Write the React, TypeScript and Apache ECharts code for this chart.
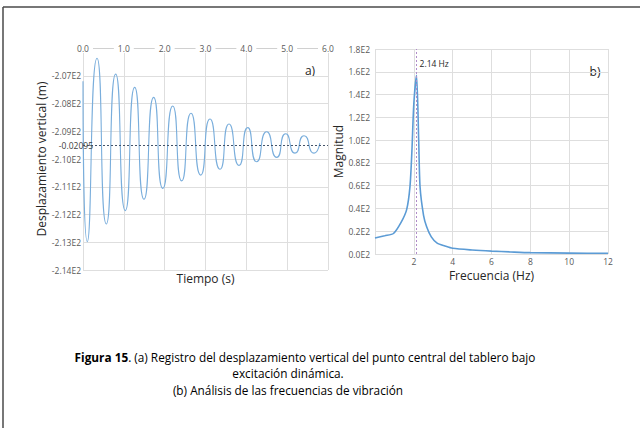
import React, { useEffect, useRef } from "react";
import * as echarts from "echarts";

// Vertical displacement record: time (s) and displacement (scaled, E2 units)
const timeS = [
  0.0, 0.105, 0.343, 0.571, 0.8, 1.036, 1.266, 1.494, 1.731, 1.955, 2.197, 2.417,
  2.645, 2.883, 3.11, 3.355, 3.576, 3.82, 4.034, 4.254, 4.499, 4.744, 4.964,
  5.192, 5.413, 5.658, 5.8,
];
const displacement = [
  -207.2, -212.98, -206.37, -212.34, -206.94, -211.86, -207.42, -211.45, -207.78,
  -211.06, -208.09, -210.79, -208.35, -210.58, -208.56, -210.37, -208.74, -210.23,
  -208.87, -210.1, -209.02, -209.94, -209.09, -209.79, -209.16, -209.79, -209.43,
];
const meanLevel = -209.5;
const meanLabel = "-0.02095";

// Frequency spectrum
const freqHz = [
  0, 0.5, 0.95, 1.35, 1.63, 1.8, 1.9, 2.0, 2.14, 2.25, 2.32, 2.5, 2.66, 2.9, 3.2,
  3.6, 4.0, 5.0, 6.0, 7.0, 8.0, 10, 12,
];
const magnitude = [
  14, 16, 18, 28, 39, 59, 90, 132, 157, 100, 59, 34, 24, 15, 9.5, 7, 5, 3.5, 2.5,
  1.8, 1.2, 0.8, 0.6,
];
const peakFreq = 2.14;
const peakLabel = "2.14 Hz";

const captionBold = "Figura 15";
const captionLine1 =
  ". (a) Registro del desplazamiento vertical del punto central del tablero bajo";
const captionLine2 = "excitación dinámica.";
const captionLine3 = "(b) Análisis de las frecuencias de vibración";

const FONT = "'Open Sans', 'Noto Sans', sans-serif";
const GRID = "#dedede";
const LABEL = "#595959";

export default function App() {
  const ref = useRef<HTMLDivElement>(null);

  useEffect(() => {
    if (!ref.current) return;
    const chart = echarts.init(ref.current, null, { renderer: "svg" });

    const tickFont = { fontFamily: FONT, fontSize: 8.5, color: LABEL };
    const nameFont = { fontFamily: FONT, fontSize: 12, color: "#262626" };

    chart.setOption({
      animation: false,
      backgroundColor: "#ffffff",
      grid: [
        { left: 83, top: 48, width: 245, height: 222 },
        { left: 375, top: 49, width: 233, height: 205 },
      ],
      xAxis: [
        {
          gridIndex: 0,
          type: "value",
          position: "top",
          min: 0,
          max: 6,
          interval: 1,
          axisLine: { show: true, lineStyle: { color: "#d0d0d0", width: 1 } },
          axisTick: { show: false },
          axisLabel: {
            ...tickFont,
            margin: -5,
            backgroundColor: "#ffffff",
            padding: [0, 4],
            formatter: (v: number) => v.toFixed(1),
          },
          splitLine: { show: true, lineStyle: { color: GRID } },
        },
        {
          gridIndex: 0,
          type: "value",
          position: "bottom",
          min: 0,
          max: 6,
          axisLine: { show: false },
          axisTick: { show: false },
          axisLabel: { show: false },
          splitLine: { show: false },
          name: "Tiempo (s)",
          nameLocation: "middle",
          nameGap: 2,
          nameTextStyle: { ...nameFont, verticalAlign: "top" },
        },
        {
          gridIndex: 1,
          type: "value",
          min: 0,
          max: 12,
          interval: 2,
          axisLine: { show: false },
          axisTick: { show: false },
          axisLabel: {
            ...tickFont,
            margin: 3,
            formatter: (v: number) => (v === 0 ? "" : String(v)),
          },
          splitLine: { show: true, lineStyle: { color: GRID } },
          name: "Frecuencia (Hz)",
          nameLocation: "middle",
          nameGap: 15,
          nameTextStyle: { ...nameFont, verticalAlign: "top" },
        },
      ],
      yAxis: [
        {
          gridIndex: 0,
          type: "value",
          min: -214,
          max: -206,
          interval: 1,
          axisLine: { show: false },
          axisTick: { show: false },
          axisLabel: {
            ...tickFont,
            margin: 2,
            formatter: (v: number) =>
              v === -206 ? "" : (v / 100).toFixed(2) + "E2",
          },
          splitLine: { show: true, lineStyle: { color: GRID } },
          name: "Desplazamiento vertical (m)",
          nameLocation: "middle",
          nameGap: 36,
          nameTextStyle: nameFont,
        },
        {
          gridIndex: 1,
          type: "value",
          min: 0,
          max: 180,
          interval: 20,
          axisLine: { show: false },
          axisTick: { show: false },
          axisLabel: {
            ...tickFont,
            margin: 5,
            formatter: (v: number) => (v / 100).toFixed(1) + "E2",
          },
          splitLine: { show: true, lineStyle: { color: GRID } },
          name: "Magnitud",
          nameLocation: "middle",
          nameGap: 29,
          nameTextStyle: nameFont,
        },
      ],
      series: [
        {
          type: "line",
          xAxisIndex: 0,
          yAxisIndex: 0,
          data: timeS.map((t, i) => [t, displacement[i]]),
          smooth: 0.72,
          showSymbol: false,
          lineStyle: { color: "#7aaedc", width: 1.1 },
          markLine: {
            silent: true,
            symbol: "none",
            lineStyle: { color: "#44546a", type: [2, 2], width: 1 },
            label: {
              show: true,
              position: "start",
              distance: -10,
              formatter: meanLabel,
              fontFamily: FONT,
              fontSize: 8.5,
              color: "#404040",
            },
            data: [{ yAxis: meanLevel }],
          },
        },
        {
          type: "line",
          xAxisIndex: 2,
          yAxisIndex: 1,
          data: freqHz.map((f, i) => [f, magnitude[i]]),
          smooth: 0.25,
          showSymbol: false,
          lineStyle: { color: "#5b9bd5", width: 1.6 },
          markLine: {
            silent: true,
            symbol: "none",
            lineStyle: { color: "#b08cc8", type: [2, 2], width: 1 },
            label: { show: false },
            data: [{ xAxis: peakFreq }],
          },
          markPoint: {
            silent: true,
            symbol: "circle",
            symbolSize: 0,
            label: {
              show: true,
              position: "right",
              distance: 3,
              formatter: peakLabel,
              fontFamily: FONT,
              fontSize: 8.5,
              color: "#262626",
            },
            data: [{ coord: [peakFreq, 167] }],
          },
        },
      ],
      graphic: [
        {
          type: "line",
          shape: { x1: 3, y1: 7, x2: 640, y2: 7 },
          style: { stroke: "#4a4a4a", lineWidth: 1.5 },
        },
        {
          type: "line",
          shape: { x1: 3, y1: 7, x2: 3, y2: 428 },
          style: { stroke: "#4a4a4a", lineWidth: 1.5 },
        },
        {
          type: "text",
          x: 310,
          y: 70,
          style: {
            text: "a)",
            font: `12px ${FONT}`,
            fill: "#262626",
            align: "center",
            verticalAlign: "middle",
          },
        },
        {
          type: "text",
          x: 595,
          y: 71,
          style: {
            text: "b)",
            font: `12px ${FONT}`,
            fill: "#262626",
            align: "center",
            verticalAlign: "middle",
          },
        },
        {
          type: "text",
          x: 305,
          y: 357,
          style: {
            text: `{b|${captionBold}}{r|${captionLine1}}`,
            align: "center",
            verticalAlign: "middle",
            rich: {
              b: { font: `bold 11.8px ${FONT}`, fill: "#000" },
              r: { font: `11.8px ${FONT}`, fill: "#000" },
            },
          },
        },
        {
          type: "text",
          x: 288,
          y: 373,
          style: {
            text: captionLine2,
            font: `11.8px ${FONT}`,
            fill: "#000",
            align: "center",
            verticalAlign: "middle",
          },
        },
        {
          type: "text",
          x: 288,
          y: 390,
          style: {
            text: captionLine3,
            font: `11.8px ${FONT}`,
            fill: "#000",
            align: "center",
            verticalAlign: "middle",
          },
        },
      ],
    });

    return () => chart.dispose();
  }, []);

  return (
    <div
      ref={ref}
      style={{
        position: "fixed",
        left: 0,
        top: 0,
        width: 640,
        height: 428,
        background: "#fff",
      }}
    />
  );
}
